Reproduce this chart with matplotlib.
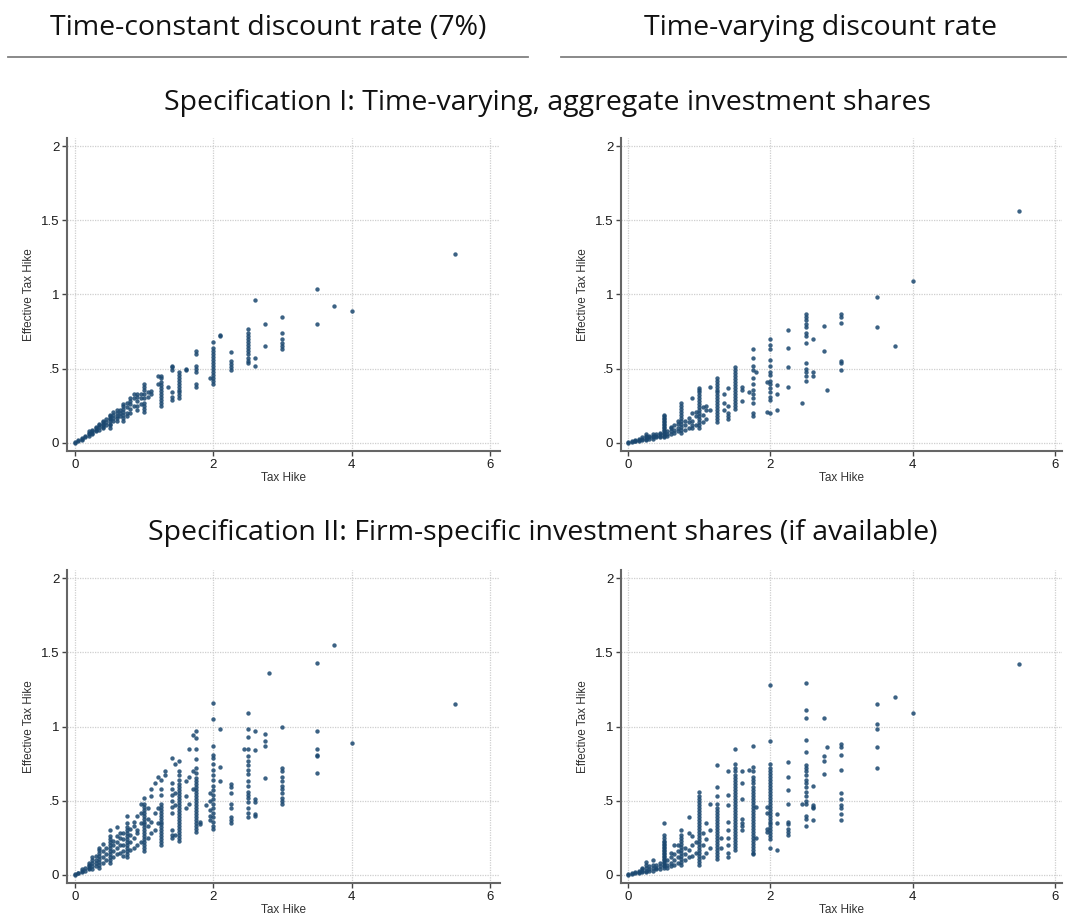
import numpy as np
import matplotlib
matplotlib.use("Agg")
import matplotlib.pyplot as plt
from matplotlib.lines import Line2D

W, H = 1067, 916

# ---- data: columns of Tax Hike values, each with its Effective Tax Hike values
TL_X = [0.0, 0.05, 0.1, 0.15, 0.2, 0.25, 0.3, 0.35, 0.4, 0.45, 0.5, 0.55, 0.6,
        0.65, 0.7, 0.75, 0.8, 0.85, 0.9, 0.95, 1.0, 1.05, 1.1, 1.2, 1.25, 1.35,
        1.4, 1.5, 1.6, 1.75, 1.95, 2.0, 2.1, 2.25, 2.5, 2.6, 2.75, 3.0, 3.5,
        3.75, 4.0, 5.5]
TL_Y = [[0.0, 0.005], [0.01, 0.02], [0.02, 0.03, 0.035], [0.04, 0.05],
        [0.05, 0.06, 0.07, 0.08], [0.06, 0.07, 0.08, 0.09],
        [0.08, 0.09, 0.10, 0.11], [0.09, 0.11, 0.12, 0.13],
        [0.10, 0.11, 0.12, 0.13, 0.14, 0.15], [0.12, 0.14, 0.16],
        [0.10, 0.12, 0.13, 0.15, 0.16, 0.17, 0.18, 0.19],
        [0.15, 0.17, 0.19, 0.21], [0.15, 0.17, 0.18, 0.20, 0.22],
        [0.18, 0.20, 0.22], [0.15, 0.17, 0.19, 0.21, 0.23, 0.25, 0.26],
        [0.18, 0.20, 0.24, 0.27], [0.20, 0.23, 0.26, 0.28, 0.30],
        [0.25, 0.30, 0.33], [0.22, 0.25, 0.28, 0.31, 0.33], [0.26, 0.30, 0.33],
        [0.21, 0.23, 0.25, 0.27, 0.30, 0.33, 0.36, 0.38, 0.40], [0.31, 0.34],
        [0.33, 0.35], [0.40, 0.45],
        [0.25, 0.27, 0.29, 0.31, 0.33, 0.35, 0.37, 0.39, 0.41, 0.44, 0.45],
        [0.38], [0.29, 0.31, 0.34, 0.49, 0.51, 0.52],
        [0.30, 0.32, 0.34, 0.36, 0.38, 0.40, 0.42, 0.44, 0.46, 0.48],
        [0.49, 0.50], [0.38, 0.40, 0.48, 0.50, 0.52, 0.60, 0.62], [0.44],
        [0.40, 0.42, 0.44, 0.46, 0.48, 0.50, 0.52, 0.54, 0.56, 0.58, 0.60,
         0.62, 0.64, 0.68],
        [0.72, 0.73], [0.49, 0.51, 0.53, 0.55, 0.61],
        [0.54, 0.55, 0.57, 0.60, 0.62, 0.64, 0.66, 0.68, 0.70, 0.72, 0.74,
         0.77],
        [0.52, 0.57, 0.96], [0.65, 0.80], [0.63, 0.65, 0.67, 0.70, 0.74, 0.85],
        [0.80, 1.04], [0.92], [0.89], [1.27]]

TR_X = [0.0, 0.05, 0.1, 0.15, 0.2, 0.25, 0.3, 0.35, 0.4, 0.45, 0.5, 0.55, 0.6,
        0.65, 0.7, 0.75, 0.8, 0.85, 0.9, 0.95, 1.0, 1.05, 1.1, 1.15, 1.25,
        1.35, 1.4, 1.5, 1.6, 1.7, 1.75, 1.8, 1.95, 2.0, 2.1, 2.25, 2.45, 2.5,
        2.6, 2.75, 2.8, 3.0, 3.5, 3.75, 4.0, 5.5]
TR_Y = [[0.0, 0.005], [0.005, 0.01], [0.01, 0.015, 0.02], [0.015, 0.02, 0.025],
        [0.02, 0.03, 0.04], [0.02, 0.03, 0.04, 0.05, 0.06], [0.03, 0.04, 0.05],
        [0.03, 0.04, 0.05, 0.06], [0.04, 0.05, 0.06], [0.04, 0.05, 0.06, 0.07],
        [0.04, 0.05, 0.06, 0.07, 0.08, 0.09, 0.10, 0.11, 0.12, 0.13, 0.14,
         0.15, 0.16, 0.17, 0.18, 0.19],
        [0.05, 0.06, 0.08], [0.06, 0.08, 0.10, 0.11], [0.07, 0.09, 0.12],
        [0.08, 0.10, 0.13, 0.15],
        [0.07, 0.09, 0.11, 0.13, 0.15, 0.17, 0.19, 0.21, 0.23, 0.25, 0.27],
        [0.09, 0.12, 0.15], [0.10, 0.14, 0.17], [0.10, 0.12, 0.15, 0.20, 0.30],
        [0.12, 0.18, 0.21],
        [0.10, 0.12, 0.14, 0.16, 0.18, 0.20, 0.22, 0.24, 0.26, 0.28, 0.30,
         0.32, 0.34, 0.36, 0.37],
        [0.14, 0.19, 0.24], [0.16, 0.22, 0.25], [0.22, 0.38],
        [0.14, 0.16, 0.18, 0.20, 0.22, 0.24, 0.26, 0.28, 0.30, 0.32, 0.34,
         0.36, 0.38, 0.40, 0.42, 0.44],
        [0.22, 0.27, 0.33], [0.16, 0.18, 0.20, 0.25, 0.37],
        [0.23, 0.25, 0.27, 0.29, 0.31, 0.33, 0.35, 0.37, 0.39, 0.41, 0.43,
         0.45, 0.47, 0.49, 0.51],
        [0.28, 0.36, 0.38], [0.34],
        [0.18, 0.20, 0.27, 0.30, 0.33, 0.36, 0.40, 0.44, 0.49, 0.52, 0.57,
         0.63],
        [0.48], [0.21, 0.41],
        [0.20, 0.29, 0.31, 0.34, 0.37, 0.40, 0.42, 0.46, 0.48, 0.52, 0.56,
         0.63, 0.66, 0.70],
        [0.22, 0.33, 0.39], [0.38, 0.51, 0.64, 0.76], [0.27],
        [0.42, 0.45, 0.48, 0.50, 0.54, 0.67, 0.72, 0.74, 0.78, 0.80, 0.83,
         0.85, 0.87],
        [0.45, 0.48, 0.70], [0.62, 0.79], [0.36],
        [0.49, 0.54, 0.55, 0.81, 0.85, 0.87], [0.78, 0.98], [0.65], [1.09],
        [1.56]]

BL_X = [0.0, 0.05, 0.1, 0.15, 0.2, 0.25, 0.3, 0.35, 0.4, 0.45, 0.5, 0.55, 0.6,
        0.65, 0.7, 0.75, 0.8, 0.85, 0.9, 0.95, 1.0, 1.05, 1.1, 1.15, 1.2,
        1.25, 1.3, 1.4, 1.45, 1.5, 1.6, 1.65, 1.7, 1.75, 1.8, 1.9, 1.95, 2.0,
        2.1, 2.25, 2.45, 2.5, 2.6, 2.75, 2.8, 3.0, 3.5, 3.75, 4.0, 5.5]
BL_Y = [[0.0, 0.005], [0.01, 0.015], [0.02, 0.03, 0.04], [0.03, 0.05],
        [0.04, 0.05, 0.06, 0.07, 0.08], [0.04, 0.06, 0.08, 0.10, 0.12],
        [0.06, 0.08, 0.10, 0.13],
        [0.05, 0.07, 0.09, 0.11, 0.13, 0.15, 0.17, 0.18],
        [0.08, 0.12, 0.16, 0.21], [0.10, 0.14, 0.18],
        [0.08, 0.10, 0.12, 0.14, 0.16, 0.18, 0.20, 0.22, 0.24, 0.26, 0.30],
        [0.12, 0.16, 0.20, 0.23], [0.14, 0.18, 0.22, 0.26, 0.32],
        [0.15, 0.20, 0.25, 0.28], [0.13, 0.16, 0.20, 0.24, 0.28],
        [0.12, 0.14, 0.16, 0.18, 0.20, 0.22, 0.24, 0.26, 0.28, 0.30, 0.32,
         0.35, 0.40],
        [0.17, 0.22, 0.27, 0.31], [0.18, 0.25, 0.33, 0.36],
        [0.20, 0.28, 0.30, 0.40], [0.22, 0.35, 0.42, 0.48],
        [0.16, 0.18, 0.20, 0.22, 0.24, 0.26, 0.28, 0.30, 0.32, 0.34, 0.36,
         0.38, 0.40, 0.42, 0.44, 0.46, 0.48, 0.52],
        [0.25, 0.33, 0.38, 0.45], [0.28, 0.36, 0.53, 0.58], [0.30, 0.42, 0.62],
        [0.35, 0.45, 0.66],
        [0.20, 0.22, 0.24, 0.26, 0.28, 0.30, 0.32, 0.34, 0.36, 0.38, 0.40,
         0.42, 0.44, 0.46, 0.48, 0.54, 0.58, 0.64],
        [0.67, 0.70],
        [0.25, 0.27, 0.30, 0.42, 0.46, 0.50, 0.54, 0.58, 0.62, 0.79],
        [0.27, 0.47, 0.55, 0.75],
        [0.23, 0.25, 0.27, 0.29, 0.31, 0.33, 0.35, 0.37, 0.39, 0.41, 0.43,
         0.45, 0.47, 0.49, 0.51, 0.53, 0.55, 0.57, 0.59, 0.61, 0.64, 0.67,
         0.70, 0.77],
        [0.45, 0.53, 0.63], [0.48, 0.66, 0.85], [0.58, 0.70, 0.94],
        [0.29, 0.31, 0.33, 0.35, 0.37, 0.39, 0.41, 0.43, 0.45, 0.47, 0.49,
         0.51, 0.53, 0.55, 0.57, 0.59, 0.61, 0.63, 0.65, 0.69, 0.72, 0.78,
         0.85, 0.92, 0.97],
        [0.34, 0.36], [0.47], [0.37, 0.40, 0.44, 0.50, 0.55],
        [0.31, 0.33, 0.36, 0.39, 0.42, 0.45, 0.48, 0.51, 0.54, 0.57, 0.60,
         0.64, 0.67, 0.71, 0.75, 0.79, 0.81, 0.87, 1.05, 1.16],
        [0.63, 0.73, 0.98], [0.35, 0.37, 0.39, 0.45, 0.48, 0.55, 0.59, 0.61],
        [0.85],
        [0.39, 0.42, 0.45, 0.49, 0.52, 0.54, 0.56, 0.60, 0.63, 0.68, 0.71,
         0.74, 0.77, 0.80, 0.85, 0.93, 0.98, 1.09],
        [0.40, 0.41, 0.49, 0.51, 0.84, 0.97], [0.65, 0.87, 0.90, 0.95], [1.36],
        [0.48, 0.50, 0.52, 0.55, 0.58, 0.60, 0.63, 0.66, 0.70, 0.72, 1.00],
        [0.69, 0.80, 0.81, 0.85, 0.97, 1.43], [1.55], [0.89], [1.15]]

BR_X = [0.0, 0.05, 0.1, 0.15, 0.2, 0.25, 0.3, 0.35, 0.4, 0.45, 0.5, 0.55, 0.6,
        0.65, 0.7, 0.75, 0.8, 0.85, 0.9, 0.95, 1.0, 1.05, 1.1, 1.15, 1.25,
        1.3, 1.4, 1.5, 1.6, 1.7, 1.75, 1.8, 1.95, 2.0, 2.1, 2.25, 2.45, 2.5,
        2.6, 2.75, 2.8, 3.0, 3.5, 3.75, 4.0, 5.5]
BR_Y = [[0.0, 0.005], [0.005, 0.01], [0.01, 0.02], [0.015, 0.02, 0.03],
        [0.02, 0.03, 0.04, 0.05], [0.02, 0.03, 0.05, 0.07, 0.09],
        [0.03, 0.04, 0.06], [0.03, 0.05, 0.07, 0.10], [0.04, 0.05, 0.07],
        [0.04, 0.06, 0.08],
        [0.05, 0.06, 0.07, 0.08, 0.09, 0.10, 0.11, 0.12, 0.13, 0.14, 0.15,
         0.16, 0.17, 0.18, 0.19, 0.20, 0.21, 0.22, 0.23, 0.25, 0.27, 0.35],
        [0.05, 0.07, 0.10], [0.06, 0.08, 0.12, 0.15],
        [0.07, 0.10, 0.14, 0.20], [0.08, 0.12, 0.16, 0.20],
        [0.07, 0.09, 0.11, 0.13, 0.15, 0.17, 0.19, 0.21, 0.23, 0.25, 0.27,
         0.30],
        [0.10, 0.14, 0.18], [0.12, 0.17, 0.28, 0.39], [0.13, 0.20, 0.26],
        [0.15, 0.22],
        [0.07, 0.09, 0.11, 0.13, 0.15, 0.17, 0.19, 0.21, 0.23, 0.25, 0.27,
         0.29, 0.31, 0.33, 0.35, 0.37, 0.39, 0.41, 0.43, 0.45, 0.47, 0.49,
         0.51, 0.53, 0.56],
        [0.12, 0.20, 0.28], [0.15, 0.24, 0.35], [0.18, 0.30, 0.48],
        [0.11, 0.13, 0.15, 0.17, 0.19, 0.21, 0.23, 0.25, 0.27, 0.29, 0.31,
         0.33, 0.35, 0.37, 0.39, 0.41, 0.43, 0.45, 0.48, 0.53, 0.59, 0.74],
        [0.18, 0.25],
        [0.12, 0.15, 0.20, 0.25, 0.30, 0.36, 0.47, 0.54, 0.70],
        [0.17, 0.19, 0.21, 0.23, 0.25, 0.27, 0.29, 0.31, 0.33, 0.35, 0.37,
         0.39, 0.41, 0.43, 0.45, 0.47, 0.49, 0.51, 0.53, 0.55, 0.57, 0.59,
         0.61, 0.63, 0.65, 0.67, 0.70, 0.72, 0.75, 0.85],
        [0.30, 0.33, 0.35, 0.38, 0.51, 0.62, 0.70], [0.71],
        [0.14, 0.15, 0.17, 0.19, 0.21, 0.23, 0.25, 0.27, 0.29, 0.31, 0.33,
         0.35, 0.37, 0.39, 0.41, 0.43, 0.45, 0.47, 0.49, 0.51, 0.53, 0.55,
         0.57, 0.59, 0.62, 0.64, 0.66, 0.70, 0.73, 0.87],
        [0.25, 0.46], [0.29, 0.31, 0.42, 0.46],
        [0.18, 0.24, 0.26, 0.28, 0.30, 0.32, 0.34, 0.36, 0.38, 0.40, 0.42,
         0.44, 0.46, 0.48, 0.50, 0.52, 0.54, 0.56, 0.58, 0.60, 0.62, 0.64,
         0.66, 0.68, 0.70, 0.72, 0.75, 0.90, 1.28],
        [0.17, 0.35, 0.41],
        [0.27, 0.29, 0.31, 0.34, 0.36, 0.48, 0.57, 0.66, 0.76], [0.48],
        [0.33, 0.38, 0.40, 0.48, 0.50, 0.53, 0.56, 0.59, 0.62, 0.64, 0.67,
         0.70, 0.72, 0.74, 0.83, 0.91, 1.06, 1.11, 1.29],
        [0.37, 0.45, 0.46, 0.47, 0.60], [0.68, 0.77, 0.80, 1.06], [0.86],
        [0.37, 0.41, 0.45, 0.47, 0.51, 0.55, 0.71, 0.81, 0.86, 0.88],
        [0.72, 0.86, 0.98, 1.02, 1.15], [1.20], [1.09], [1.42]]

COL_HEADERS = ["Time-constant discount rate (7%)", "Time-varying discount rate"]
ROW_HEADERS = ["Specification I: Time-varying, aggregate investment shares",
               "Specification II: Firm-specific investment shares (if available)"]
X_TICKS = [0, 2, 4, 6]
Y_TICKS = [0, 0.5, 1, 1.5, 2]
Y_TICKLABELS = ["0", ".5", "1", "1.5", "2"]

NAVY = "#1a476f"
TICK_FONT = "Liberation Sans"
HEAD_FONT = "Open Sans"
HEAD_SIZE = 20.5


def flatten(cols, vals):
    xs = np.repeat(cols, [len(v) for v in vals])
    ys = np.concatenate([np.asarray(v, float) for v in vals])
    return xs, ys


def fx(px):
    return px / W


def fy(py):
    return 1 - py / H


fig = plt.figure(figsize=(W / 100, H / 100), dpi=100)
fig.patch.set_facecolor("white")

# panel boxes in pixels: (left, top, right, bottom), then x limits
panels = [
    ((67, 138, 500, 451), (-0.116, 6.145), TL_X, TL_Y),
    ((621, 138, 1062, 451), (-0.099, 6.1), TR_X, TR_Y),
    ((67, 570, 500, 883), (-0.116, 6.145), BL_X, BL_Y),
    ((621, 570, 1062, 883), (-0.099, 6.1), BR_X, BR_Y),
]

for (l, t, r, b), xlim, cx, cy in panels:
    ax = fig.add_axes([fx(l), fy(b), (r - l) / W, (b - t) / H])
    xs, ys = flatten(cx, cy)
    ax.scatter(xs, ys, s=10, color=NAVY, alpha=0.85, linewidths=0, zorder=3)
    ax.set_xlim(*xlim)
    ax.set_ylim(-0.054, 2.054)
    ax.set_xticks(X_TICKS)
    ax.set_yticks(Y_TICKS)
    ax.set_yticklabels(Y_TICKLABELS)
    ax.grid(True, color="#cfcfcf", linestyle=(0, (1, 1)), linewidth=0.9,
            zorder=0)
    for s in ("top", "right"):
        ax.spines[s].set_visible(False)
    for s in ("left", "bottom"):
        ax.spines[s].set_color("#666666")
        ax.spines[s].set_linewidth(1.5)
    ax.tick_params(length=3.5, width=1, color="#444444", pad=2,
                   labelsize=9.5, labelcolor="#1a1a1a")
    for lab in ax.get_xticklabels() + ax.get_yticklabels():
        lab.set_family(TICK_FONT)
    ax.set_xlabel("Tax Hike", fontsize=8.5, family=TICK_FONT,
                  color="#333333", labelpad=1)
    ax.set_ylabel("Effective Tax Hike", fontsize=8.5, family=TICK_FONT,
                  color="#333333", labelpad=4)

# column headers with rules below
fig.text(fx(268), fy(28), COL_HEADERS[0], ha="center", va="center",
         fontsize=HEAD_SIZE, family=HEAD_FONT, color="#111111")
fig.text(fx(821), fy(28), COL_HEADERS[1], ha="center", va="center",
         fontsize=HEAD_SIZE, family=HEAD_FONT, color="#111111")
fig.add_artist(Line2D([fx(8), fx(528)], [fy(57), fy(57)], color="#808080",
                      linewidth=1.3))
fig.add_artist(Line2D([fx(561), fx(1066)], [fy(57), fy(57)], color="#808080",
                      linewidth=1.3))

# row headers
fig.text(fx(547), fy(103), ROW_HEADERS[0], ha="center", va="center",
         fontsize=HEAD_SIZE, family=HEAD_FONT, color="#111111")
fig.text(fx(543), fy(533), ROW_HEADERS[1], ha="center", va="center",
         fontsize=HEAD_SIZE, family=HEAD_FONT, color="#111111")

fig.savefig("out.png", dpi=100, facecolor="white")
